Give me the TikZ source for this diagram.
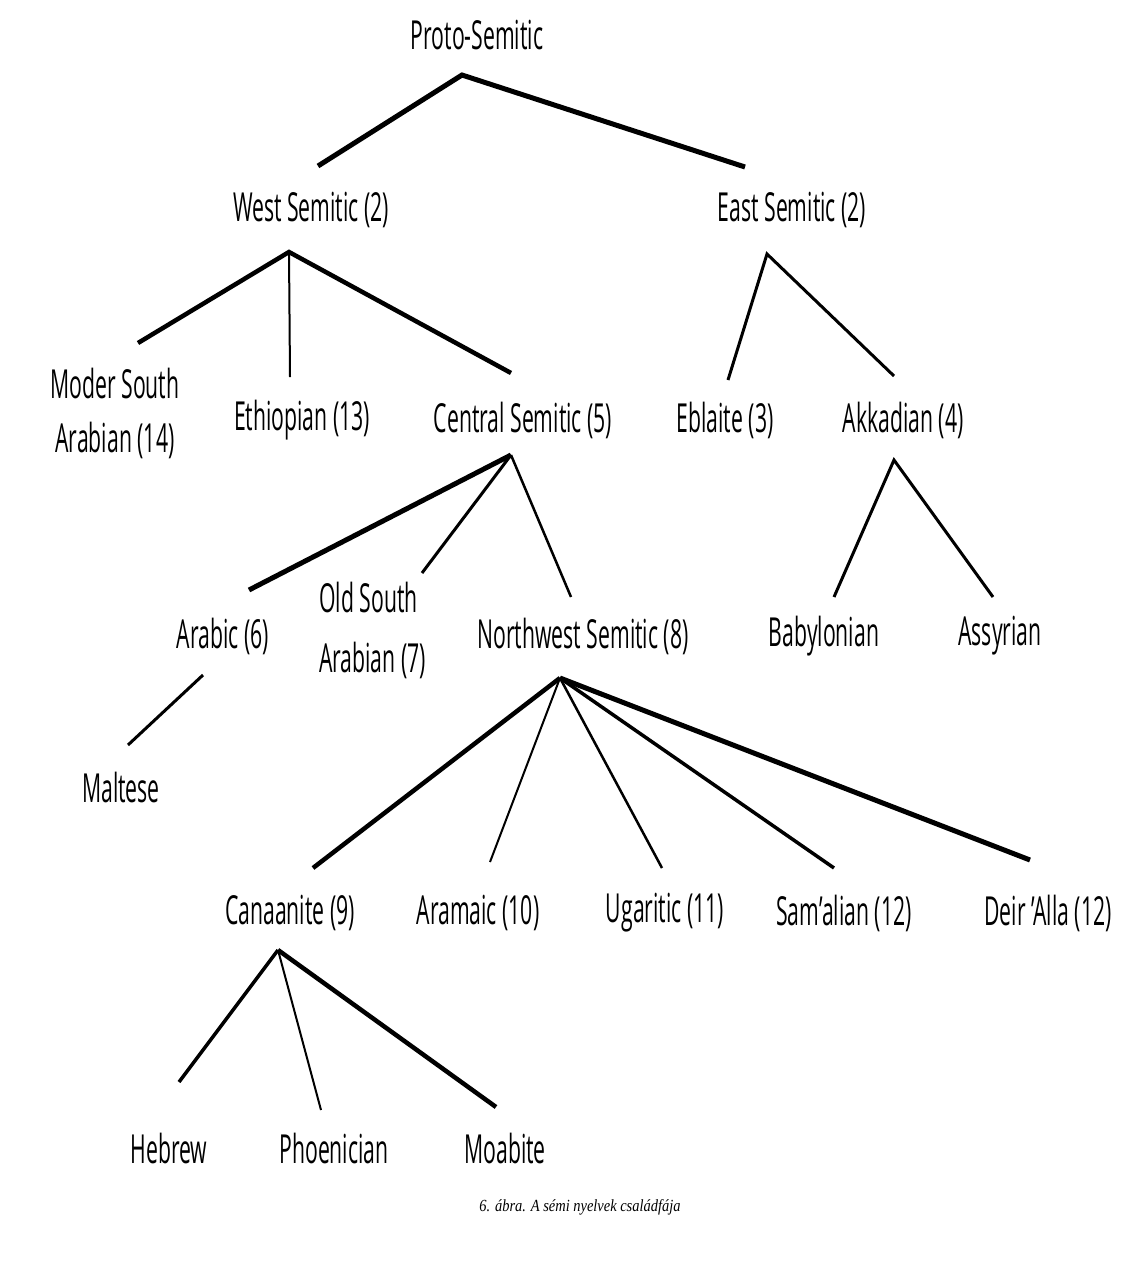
\documentclass[tikz,border=0pt]{standalone}
\usepackage{fontspec}
\setmainfont{Open Sans}[FakeStretch=0.53]
\newfontfamily\capfont{Liberation Serif}[FakeStretch=0.85]
\begin{document}
\begin{tikzpicture}[x=1pt,y=-1pt,
  lbl/.style={font=\fontsize{40}{54}\selectfont, inner sep=0pt},
  wA/.style={line width=5pt},
  wB/.style={line width=4.5pt},
  wC/.style={line width=3pt},
  wD/.style={line width=2pt}]
\useasboundingbox (0,0) rectangle (1140,1283);
% labels
\node[lbl] (proto) at (477,35) {Proto-Semitic};
\node[lbl] (west) at (311,210) {West Semitic (2)};
\node[lbl] (east) at (792,210) {East Semitic (2)};
\node[lbl, align=center] (msa) at (115,413) {Moder South\\Arabian (14)};
\node[lbl] (eth) at (302,420) {Ethiopian (13)};
\node[lbl] (central) at (523,420) {Central Semitic (5)};
\node[lbl] (ebla) at (725,420) {Eblaite (3)};
\node[lbl] (akk) at (903,420) {Akkadian (4)};
\node[lbl] (arabic) at (223,636) {Arabic (6)};
\node[lbl, align=left, anchor=west] (osa) at (319,630) {Old South\\[6pt]Arabian (7)};
\node[lbl] (nw) at (583,636) {Northwest Semitic (8)};
\node[lbl] (bab) at (824,636) {Babylonian};
\node[lbl] (ass) at (1000,636) {Assyrian};
\node[lbl] (malt) at (121,787) {Maltese};
\node[lbl] (can) at (290,913) {Canaanite (9)};
\node[lbl] (ara) at (478,913) {Aramaic (10)};
\node[lbl] (uga) at (665,913) {Ugaritic (11)};
\node[lbl] (sam) at (844,913) {Sam'alian (12)};
\node[lbl] (deir) at (1048,913) {Deir 'Alla (12)};
\node[lbl] (heb) at (169,1148) {Hebrew};
\node[lbl] (phoe) at (334,1148) {Phoenician};
\node[lbl] (moab) at (505,1148) {Moabite};
\node[inner sep=0pt, font=\capfont\itshape\fontsize{17}{20}\selectfont] (cap) at (580,1207) {6. ábra. A sémi nyelvek családfája};
% apex and tip coordinates
\coordinate (pA) at (462,75);
\coordinate (tWest) at (318,166);
\coordinate (tEast) at (745,167);
\coordinate (wA0) at (289,252);
\coordinate (tMsa) at (138,343);
\coordinate (tEth) at (290,377);
\coordinate (tCen) at (511,373);
\coordinate (eA) at (767,254);
\coordinate (tEbla) at (728,380);
\coordinate (tAkk) at (894,376);
\coordinate (cA) at (511,455);
\coordinate (tArab) at (249,590);
\coordinate (tOsa) at (422,573);
\coordinate (tNw) at (571,597);
\coordinate (kA) at (894,460);
\coordinate (tBab) at (834,597);
\coordinate (tAss) at (993,597);
\coordinate (arA) at (203,675);
\coordinate (tMalt) at (128,745);
\coordinate (nA) at (560,678);
\coordinate (tCan) at (313,868);
\coordinate (tAra) at (490,862);
\coordinate (tUga) at (662,868);
\coordinate (tSam) at (834,868);
\coordinate (tDeir) at (1030,860);
\coordinate (gA) at (278,950);
\coordinate (tHeb) at (179,1082);
\coordinate (tPhoe) at (321,1110);
\coordinate (tMoab) at (496,1107);
% connectors
\draw[wA] (tWest) -- (pA) -- (tEast);
\draw[wB] (tMsa) -- (wA0) -- (tCen);
\draw[wD] (wA0) -- (tEth);
\draw[wC] (tEbla) -- (eA) -- (tAkk);
\draw[wA] (cA) -- (tArab);
\draw[wC] (cA) -- (tOsa);
\draw[wD, line width=2.5pt] (cA) -- (tNw);
\draw[wC] (tBab) -- (kA) -- (tAss);
\draw[wC] (arA) -- (tMalt);
\draw[wB] (nA) -- (tCan);
\draw[wD] (nA) -- (tAra);
\draw[wD, line width=2.5pt] (nA) -- (tUga);
\draw[wC, line width=3.5pt] (nA) -- (tSam);
\draw[wA] (nA) -- (tDeir);
\draw[wC, line width=3.5pt] (gA) -- (tHeb);
\draw[wD] (gA) -- (tPhoe);
\draw[wB] (gA) -- (tMoab);
\end{tikzpicture}
\end{document}
